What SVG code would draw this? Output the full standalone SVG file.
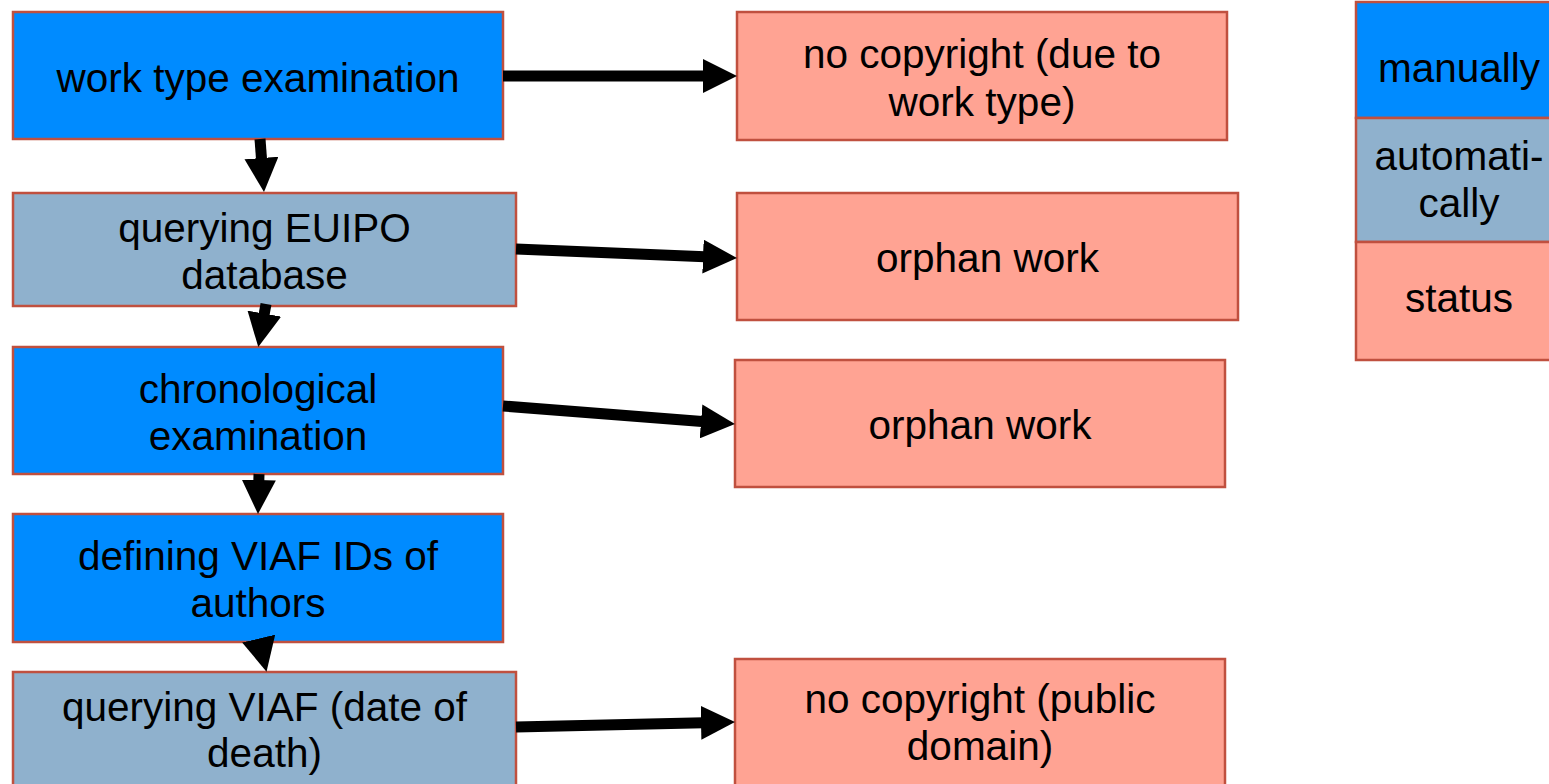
<svg xmlns="http://www.w3.org/2000/svg" width="1549" height="784" viewBox="0 0 1549 784">
<defs>
<marker id="ah" markerUnits="userSpaceOnUse" markerWidth="34" markerHeight="34" viewBox="0 0 34 34" refX="14" refY="17" orient="auto">
<path d="M0,0 L34,17 L0,34 Z" fill="#000"/>
</marker>
</defs>
<style>
rect{stroke:#c0503f;stroke-width:2.5}
.man{fill:#008bff}
.auto{fill:#8fb1cd}
.stat{fill:#ffa393}
text{font-family:"Liberation Sans",Arial,Helvetica,sans-serif;font-size:40.5px;fill:#000;text-anchor:middle}
.conn line{stroke:#000;stroke-width:11;marker-end:url(#ah)}
</style>
<rect width="1549" height="784" fill="#fff" style="stroke:none"/>
<g id="n1"><rect class="man" x="13" y="12" width="490" height="127"/><text x="258" y="92">work type examination</text></g>
<g id="n2"><rect class="auto" x="13" y="193" width="503" height="113"/><text x="264.5" y="242">querying EUIPO</text><text x="264.5" y="289">database</text></g>
<g id="n3"><rect class="man" x="13" y="347" width="490" height="127"/><text x="258" y="403">chronological</text><text x="258" y="450">examination</text></g>
<g id="n4"><rect class="man" x="13" y="514" width="490" height="128"/><text x="258" y="570">defining VIAF IDs of</text><text x="258" y="617">authors</text></g>
<g id="n5"><rect class="auto" x="13" y="672" width="503" height="130"/><text x="264.5" y="721">querying VIAF (date of</text><text x="264.5" y="767">death)</text></g>
<g id="s1"><rect class="stat" x="737" y="12" width="490" height="128"/><text x="982" y="68">no copyright (due to</text><text x="982" y="116">work type)</text></g>
<g id="s2"><rect class="stat" x="737" y="193" width="501" height="127"/><text x="987.5" y="272">orphan work</text></g>
<g id="s3"><rect class="stat" x="735" y="360" width="490" height="127"/><text x="980" y="439">orphan work</text></g>
<g id="s4"><rect class="stat" x="735" y="659" width="490" height="140"/><text x="980" y="713">no copyright (public</text><text x="980" y="760">domain)</text></g>
<g id="legend">
<rect class="man" x="1356" y="2" width="206" height="116"/><text x="1459" y="82">manually</text>
<rect class="auto" x="1356" y="118" width="206" height="124"/><text x="1459" y="170">automati-</text><text x="1459" y="217">cally</text>
<rect class="stat" x="1356" y="242" width="206" height="118"/><text x="1459" y="312">status</text>
</g>
<g id="connectors" class="conn">
<line x1="503" y1="76" x2="717" y2="76"/>
<line x1="516" y1="249" x2="717" y2="257.2"/>
<line x1="503" y1="406" x2="715" y2="422.5"/>
<line x1="516" y1="727" x2="715" y2="722.5"/>
<line x1="260" y1="139" x2="262.5" y2="172"/>
<line x1="266" y1="304" x2="261.8" y2="327.4"/>
<line x1="259" y1="474" x2="258.5" y2="494"/>
<line x1="259" y1="640" x2="261.9" y2="652.2"/>
</g>
</svg>
